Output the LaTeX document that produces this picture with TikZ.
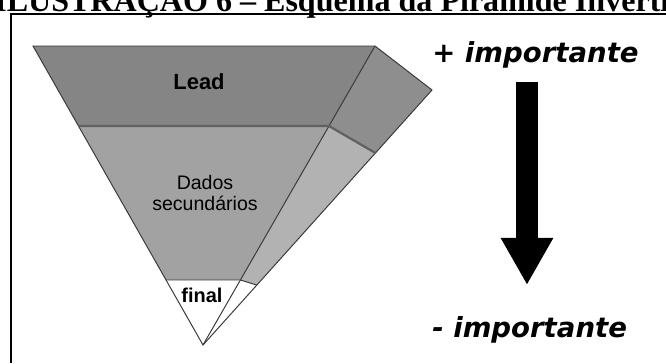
\documentclass[tikz,border=0pt]{standalone}
\usepackage{fontspec}
\setmainfont{Liberation Serif}
\newfontfamily\rotulo{Liberation Sans}
\newfontfamily\lado{DejaVu Sans}
\usetikzlibrary{calc,arrows.meta}

\definecolor{leadfrente}{HTML}{858585}
\definecolor{leadlado}{HTML}{8E8E8E}
\definecolor{dadosfrente}{HTML}{A2A2A2}
\definecolor{dadoslado}{HTML}{B2B2B2}
\definecolor{aresta}{HTML}{3A3A3A}

\begin{document}
\begin{tikzpicture}[x=0.025cm, y=-0.025cm]

  \useasboundingbox (0,0) rectangle (666,363);

  % --- titulo (cortado) ---
  \begin{scope}
    \clip (0,0) rectangle (666,363);
    \node[anchor=base west, inner sep=0, font=\fontsize{22.8}{26}\selectfont\bfseries] (titulo) at (-6,11.5)
      {ILUSTRAÇÃO 6 – Esquema da Pirâmide Invertida};
  \end{scope}

  % --- moldura ---
  \draw[line width=1.4pt] (11,363) -- (11,14) -- (666,14);

  % --- vertices da piramide ---
  \coordinate (topoesq) at (33,46);
  \coordinate (topodir) at (375,46);
  \coordinate (fundo) at (432,90);
  \coordinate (vertice) at (203,345);
  \coordinate (lead1) at ($(topoesq)!0.2676!(vertice)$);
  \coordinate (lead2) at ($(topodir)!0.2676!(vertice)$);
  \coordinate (lead3) at ($(fundo)!0.247!(vertice)$);
  \coordinate (final1) at ($(topoesq)!0.7826!(vertice)$);
  \coordinate (final2) at ($(topodir)!0.7826!(vertice)$);
  \coordinate (final3) at ($(fundo)!0.765!(vertice)$);

  % --- faces ---
  \fill[leadfrente] (topoesq) -- (topodir) -- (lead2) -- (lead1) -- cycle;
  \fill[leadlado] (topodir) -- (fundo) -- (lead3) -- (lead2) -- cycle;
  \fill[dadosfrente] (lead1) -- (lead2) -- (final2) -- (final1) -- cycle;
  \fill[dadoslado] (lead2) -- (lead3) -- (final3) -- (final2) -- cycle;

  % --- arestas ---
  \draw[aresta, line width=0.7pt] (topoesq) -- (topodir) -- (fundo) -- (vertice) -- cycle;
  \draw[aresta, line width=0.7pt] (topodir) -- (vertice);
  \draw[aresta!80, line width=1.6pt] (lead1) -- (lead2) -- (lead3);
  \draw[aresta, line width=0.7pt] (final1) -- (final2) -- (final3);

  % --- rotulos ---
  \node[anchor=base, inner sep=0, font=\rotulo\fontsize{15.6}{18}\selectfont\bfseries] (lead) at (199,89)
    {Lead};
  \node[align=center, inner sep=0, font=\rotulo\fontsize{13.9}{15}\selectfont] (dados) at (205,193)
    {Dados\\secundários};
  \node[anchor=base, inner sep=0, font=\rotulo\fontsize{14.2}{16}\selectfont\bfseries] (final) at (202,302)
    {final};

  % --- escala de importancia ---
  \node[anchor=base west, inner sep=0, font=\lado\bfseries\itshape\fontsize{19.6}{22}\selectfont] (mais) at (432,62)
    {+ importante};
  \node[anchor=base west, inner sep=0, font=\lado\bfseries\itshape\fontsize{19.6}{22}\selectfont] (menos) at (432,337)
    {- importante};
  \coordinate (setaini) at (527,82);
  \coordinate (setafim) at (527,285);
  \draw[line width=0.55cm, -{Triangle[width=1.225cm, length=1.175cm]}] (setaini) -- (setafim);

\end{tikzpicture}
\end{document}
